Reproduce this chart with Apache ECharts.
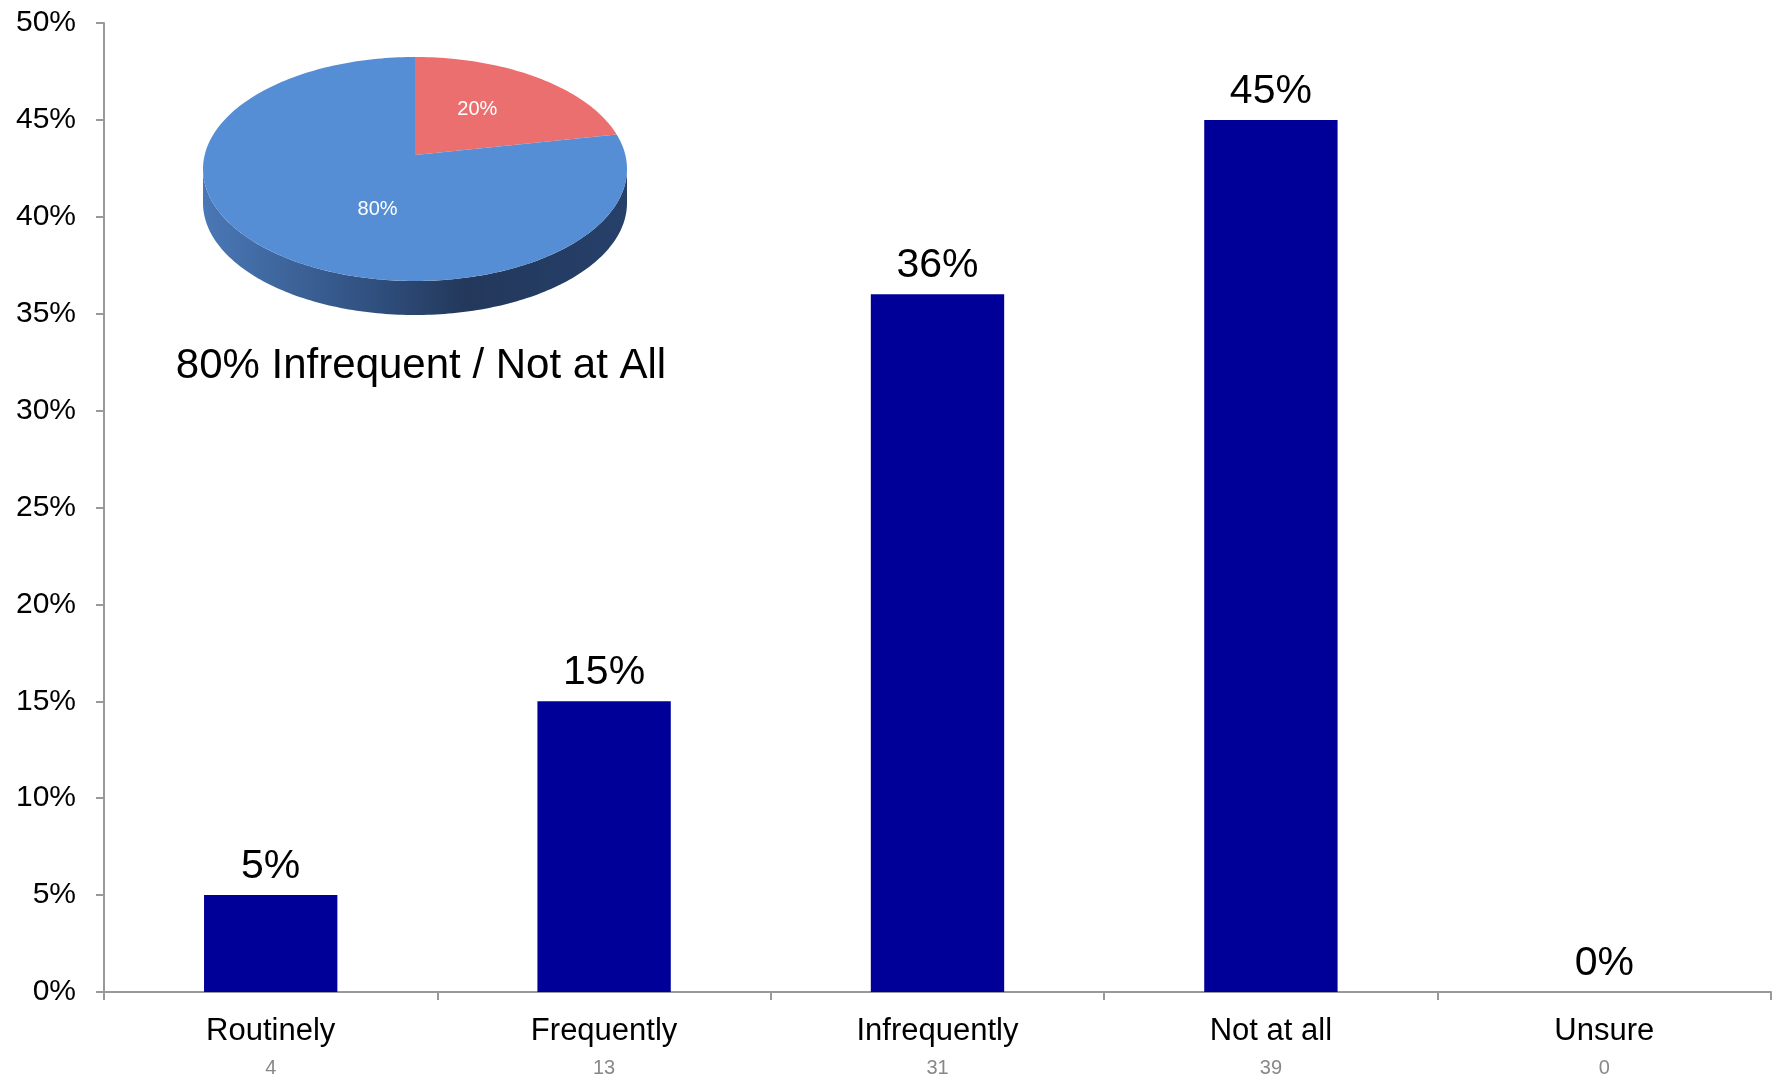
<!DOCTYPE html>
<html>
<head>
<meta charset="utf-8">
<script src="https://cdn.jsdelivr.net/npm/echarts@6/dist/echarts.min.js"></script>
<style>html,body{margin:0;padding:0;background:#fff}#c{width:1777px;height:1089px}</style>
</head>
<body>
<div id="c"></div>
<script>
// ---- data ----
const categories = ['Routinely', 'Frequently', 'Infrequently', 'Not at all', 'Unsure'];
const percents = [5, 15, 36, 45, 0];
const counts = [4, 13, 31, 39, 0];
const pieNames = ['Routinely / Frequently', 'Infrequent / Not at All'];
const pieValues = [20, 80];
const pieTitle = '80% Infrequent / Not at All';
const yMin = 0, yMax = 50, yInterval = 5;

// ---- pie geometry / style ----
const CX = 415, CY = 169, RX = 212, RY = 112, DEPTH = 34, APEX_Y = 155;
const topColors = ['#EC6F6F', '#558ED5'];
const sideColors = [
  null,
  { type: 'linear', x: 0, y: 0, x2: 1, y2: 0, colorStops: [
    { offset: 0, color: '#4A78B6' }, { offset: 0.4, color: '#30507F' },
    { offset: 0.62, color: '#23385B' }, { offset: 1, color: '#26406A' }] }
];
const pieTotal = pieValues.reduce((a, b) => a + b, 0);
function sliceAngles(i) {
  let acc = 0;
  for (let k = 0; k < i; k++) acc += pieValues[k];
  const a0 = -Math.PI / 2 + acc / pieTotal * 2 * Math.PI;
  const a1 = a0 + pieValues[i] / pieTotal * 2 * Math.PI;
  return [a0, a1];
}
function ell(t, dy) { return [CX + RX * Math.cos(t), CY + RY * Math.sin(t) + (dy || 0)]; }
function arcPts(t0, t1, dy) {
  const n = Math.max(4, Math.ceil(Math.abs(t1 - t0) / 0.02));
  const pts = [];
  for (let j = 0; j <= n; j++) pts.push(ell(t0 + (t1 - t0) * j / n, dy));
  return pts;
}

function renderSide(params, api) {
  const i = params.dataIndex;
  const [a0, a1] = sliceAngles(i);
  const children = [];
  for (let k = -1; k <= 1; k++) {
    const lo = Math.max(a0, k * 2 * Math.PI), hi = Math.min(a1, k * 2 * Math.PI + Math.PI);
    if (hi > lo) {
      const pts = arcPts(lo, hi, 0).concat(arcPts(hi, lo, DEPTH));
      children.push({ type: 'polygon', shape: { points: pts },
        style: { fill: sideColors[i] || '#8a3a3a', stroke: null } });
    }
  }
  return { type: 'group', children };
}

function renderTop(params, api) {
  const i = params.dataIndex;
  const [a0, a1] = sliceAngles(i);
  // slight perspective: boundary points shifted toward the back
  const pts = [[CX, APEX_Y]].concat(arcPts(a0, a1, 0));
  const m = (a0 + a1) / 2;
  const f = 0.5;
  const lx = CX + RX * f * Math.cos(m) * (Math.sin(m) > 0 ? 0.6 : 1), ly = APEX_Y + RY * f * Math.sin(m) * (Math.sin(m) > 0 ? 1.2 : 1);
  return { type: 'group', children: [
    { type: 'polygon', shape: { points: pts }, style: { fill: topColors[i], stroke: null } },
    { type: 'text', x: lx, y: ly, style: { text: api.value(0) + '%', fill: '#fff',
      fontSize: 20, fontFamily: 'Liberation Sans, Arial, sans-serif', align: 'center', verticalAlign: 'middle' } }
  ] };
}

const chart = echarts.init(document.getElementById('c'), null, { renderer: 'canvas' });
chart.setOption({
  backgroundColor: '#fff',
  animation: false,
  textStyle: { fontFamily: 'Liberation Sans, Arial, sans-serif' },
  grid: { left: 104, right: 6, top: 23, bottom: 97, containLabel: false },
  xAxis: {
    type: 'category',
    data: categories,
    axisLine: { lineStyle: { color: '#999', width: 2 } },
    axisTick: { show: true, length: 8, lineStyle: { color: '#999', width: 2 } },
    axisLabel: {
      margin: 19,
      formatter: function (v, idx) { return '{a|' + v + '}\n{b|' + counts[idx] + '}'; },
      rich: {
        a: { fontSize: 31, lineHeight: 40, color: '#000', fontFamily: 'Liberation Sans, Arial, sans-serif' },
        b: { fontSize: 20, lineHeight: 34, color: '#888', fontFamily: 'Liberation Sans, Arial, sans-serif' }
      }
    }
  },
  yAxis: {
    type: 'value', min: yMin, max: yMax, interval: yInterval,
    axisLine: { show: true, lineStyle: { color: '#999', width: 2 } },
    axisTick: { show: true, length: 8, lineStyle: { color: '#999', width: 2 } },
    splitLine: { show: false },
    axisLabel: { formatter: '{value}%', fontSize: 30, color: '#000', margin: 28 }
  },
  series: [
    {
      type: 'bar', data: percents, barWidth: '40%',
      itemStyle: { color: '#000099' },
      label: { show: true, position: 'top', distance: 8, formatter: '{c}%', fontSize: 41, color: '#000' }
    },
    {
      type: 'custom', coordinateSystem: 'none', z: 5,
      data: pieValues.map((v, i) => ({ name: pieNames[i], value: v })),
      renderItem: renderSide, silent: true
    },
    {
      type: 'custom', coordinateSystem: 'none', z: 6,
      data: pieValues.map((v, i) => ({ name: pieNames[i], value: v })),
      renderItem: renderTop, silent: true
    }
  ],
  graphic: [
    { type: 'text', x: 421, y: 366, z: 10,
      style: { text: pieTitle, fontSize: 42, fill: '#000', fontFamily: 'Liberation Sans, Arial, sans-serif',
        align: 'center', verticalAlign: 'middle' } }
  ]
});
</script>
</body>
</html>
